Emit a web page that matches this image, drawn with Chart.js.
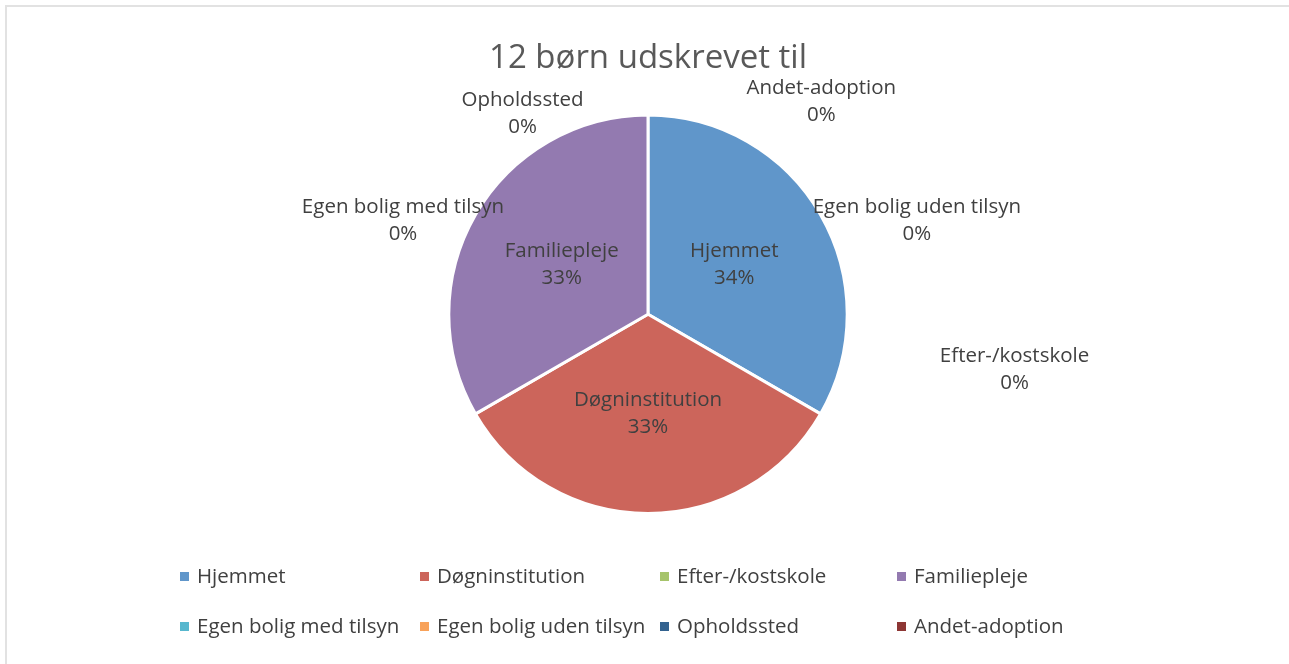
<!DOCTYPE html>
<html>
<head>
<meta charset="utf-8">
<script src="https://cdn.jsdelivr.net/npm/chart.js@4.4.1/dist/chart.umd.min.js"></script>
<style>
  html, body { margin: 0; padding: 0; background: #fff; }
  #frame {
    position: absolute; left: 5px; top: 5px; width: 1290px; height: 670px;
    border-left: 2px solid #e2e2e2; border-top: 2px solid #e2e2e2;
    box-sizing: border-box;
  }
  #wrap { position: absolute; left: 0; top: 0; width: 1289px; height: 664px; }
</style>
</head>
<body>
<div id="frame"></div>
<div id="wrap"><canvas id="chart"></canvas></div>
<script>
// data
const categories = ['Hjemmet', 'Døgninstitution', 'Efter-/kostskole', 'Familiepleje',
  'Egen bolig med tilsyn', 'Egen bolig uden tilsyn', 'Opholdssted', 'Andet-adoption'];
const children = [4, 4, 0, 4, 0, 0, 0, 0];
const percentLabels = ['34%', '33%', '0%', '33%', '0%', '0%', '0%', '0%'];
const colors = ['#6096CA', '#CC655B', '#A6C46B', '#937AB0', '#57B7CE', '#F8A25A', '#33628F', '#8D3634'];
const titleText = '12 børn udskrevet til';

const FONT = '"Open Sans", Lato, sans-serif';
const TEXT = '#404040';

// where Excel put the labels of the empty slices (relative to pie centre, in radii)
const zeroLabelSpots = {
  2: [1.84, 0.28],
  4: [-1.23, -0.47],
  5: [1.35, -0.47],
  6: [-0.63, -1.005],
  7: [0.87, -1.065]
};

const sliceLabels = {
  id: 'sliceLabels',
  afterDatasetsDraw(chart) {
    const ctx = chart.ctx;
    const meta = chart.getDatasetMeta(0);
    ctx.save();
    ctx.font = '20.5px ' + FONT;
    ctx.fillStyle = TEXT;
    ctx.textAlign = 'center';
    ctx.textBaseline = 'middle';
    meta.data.forEach((arc, i) => {
      let x, y;
      if (children[i] > 0) {
        const p = arc.tooltipPosition();
        x = p.x; y = p.y;
      } else {
        const r = arc.outerRadius;
        x = arc.x + zeroLabelSpots[i][0] * r;
        y = arc.y + zeroLabelSpots[i][1] * r;
      }
      ctx.fillText(categories[i], x, y - 13.5);
      ctx.fillText(percentLabels[i], x, y + 13.5);
    });
    ctx.restore();
  }
};

const gridLegend = {
  id: 'gridLegend',
  afterDraw(chart) {
    const ctx = chart.ctx;
    const colX = [184, 424, 664, 901];
    const rowY = [577, 627];
    ctx.save();
    ctx.font = '20.5px ' + FONT;
    ctx.textBaseline = 'middle';
    ctx.textAlign = 'left';
    categories.forEach((name, i) => {
      const x = colX[i % 4];
      const y = rowY[Math.floor(i / 4)];
      ctx.fillStyle = colors[i];
      ctx.fillRect(x - 4, y - 5, 9, 9);
      ctx.fillStyle = TEXT;
      ctx.fillText(name, x + 13, y);
    });
    ctx.restore();
  }
};

new Chart(document.getElementById('chart'), {
  type: 'pie',
  data: {
    labels: categories,
    datasets: [{
      data: children,
      backgroundColor: colors,
      borderColor: '#ffffff',
      borderWidth: 3
    }]
  },
  options: {
    responsive: true,
    maintainAspectRatio: false,
    animation: false,
    layout: { padding: { left: 7, right: 0, top: 0, bottom: 149 } },
    plugins: {
      legend: { display: false },
      tooltip: { enabled: false },
      title: {
        display: true,
        text: titleText,
        color: '#595959',
        font: { family: FONT, size: 33, weight: 'normal' },
        padding: { top: 39, bottom: 35 }
      }
    }
  },
  plugins: [sliceLabels, gridLegend]
});
</script>
</body>
</html>
